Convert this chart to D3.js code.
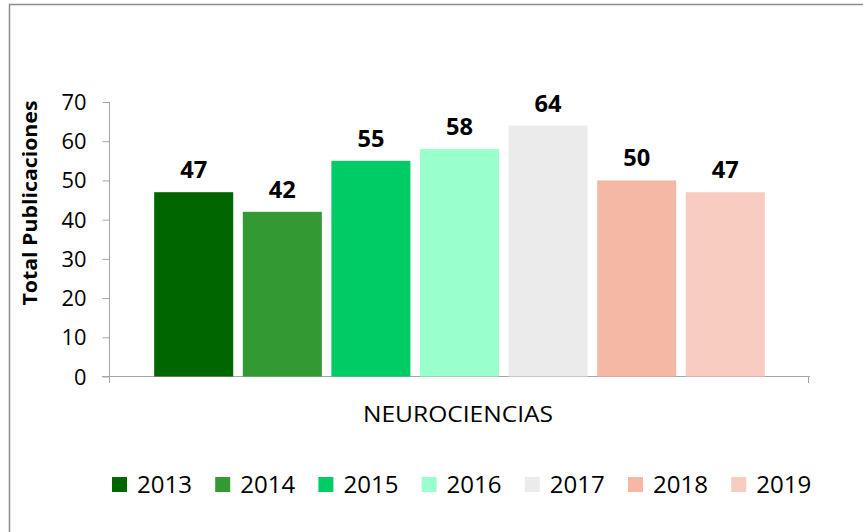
<html>
<head>
<meta charset="utf8">
<style>
  body { margin: 0; background: #fff; }
  text { font-family: "Open Sans", "Noto Sans", sans-serif; fill: #000; }
</style>
</head>
<body>
<svg width="863" height="532"></svg>
<script src="https://d3js.org/d3.v7.min.js"></script>
<script>
var years = ["2013", "2014", "2015", "2016", "2017", "2018", "2019"];
var values = [47, 42, 55, 58, 64, 50, 47];
var colors = ["#006600", "#339933", "#00CC66", "#99FFCC", "#EBEBEB", "#F4B8A4", "#F8CCC0"];
var category = "NEUROCIENCIAS";
var yTicks = [0, 10, 20, 30, 40, 50, 60, 70];

var svg = d3.select("svg");

// outer chart frame (only left and top edges are visible)
svg.append("rect")
    .attr("x", 9.5).attr("y", 4.5)
    .attr("width", 900).attr("height", 600)
    .attr("fill", "none").attr("stroke", "#8c8c8c").attr("stroke-width", 1.5);

var y = d3.scaleLinear().domain([0, 70]).range([376.5, 102]);
var x = d3.scaleBand().domain(years).range([109, 810]).paddingInner(0.108).paddingOuter(0.51);

// y axis
var yAxis = svg.append("g")
    .attr("transform", "translate(109.5,0)")
    .call(d3.axisLeft(y).tickValues(yTicks).tickSize(7).tickPadding(16));
yAxis.select(".domain").attr("stroke", "#a6a6a6").attr("d", "M0,102V376.5");
yAxis.selectAll(".tick line").attr("stroke", "#a6a6a6");
yAxis.selectAll(".tick text").attr("font-size", 21).attr("dy", "0.36em")
    .attr("textLength", d => String(d).length * 12.5).attr("lengthAdjust", "spacingAndGlyphs");

// x axis line
svg.append("line")
    .attr("x1", 102).attr("x2", 810).attr("y1", 376.5).attr("y2", 376.5)
    .attr("stroke", "#a6a6a6");
svg.selectAll(".xt").data([109, 808]).enter().append("line")
    .attr("x1", d => d + 0.5).attr("x2", d => d + 0.5)
    .attr("y1", 376).attr("y2", 383).attr("stroke", "#a6a6a6");

// bars
svg.selectAll(".bar").data(values).enter().append("rect")
    .attr("x", (d, i) => x(years[i]))
    .attr("y", d => y(d))
    .attr("width", x.bandwidth())
    .attr("height", d => y(0) - y(d))
    .attr("fill", (d, i) => colors[i]);

// value labels
svg.selectAll(".lbl").data(values).enter().append("text")
    .attr("x", (d, i) => x(years[i]) + x.bandwidth() / 2)
    .attr("y", d => y(d) - 14)
    .attr("text-anchor", "middle")
    .attr("font-size", 23).attr("font-weight", "bold")
    .attr("textLength", 27).attr("lengthAdjust", "spacingAndGlyphs")
    .text(d => d);

// category label
svg.append("text")
    .attr("x", 458).attr("y", 422)
    .attr("text-anchor", "middle").attr("font-size", 21)
    .attr("textLength", 190).attr("lengthAdjust", "spacingAndGlyphs")
    .text(category);

// y title
svg.append("text")
    .attr("transform", "translate(37,203) rotate(-90)")
    .attr("text-anchor", "middle").attr("font-size", 19).attr("font-weight", "bold")
    .attr("textLength", 205).attr("lengthAdjust", "spacingAndGlyphs")
    .text("Total Publicaciones");

// legend
var leg = svg.selectAll(".leg").data(years).enter().append("g")
    .attr("transform", (d, i) => "translate(" + (112 + i * 103.2) + ",477)");
leg.append("rect").attr("width", 15).attr("height", 15).attr("fill", (d, i) => colors[i]);
leg.append("text").attr("x", 25).attr("y", 16).attr("font-size", 23)
    .attr("textLength", 55).attr("lengthAdjust", "spacingAndGlyphs")
    .text(d => d);
</script>
</body>
</html>
